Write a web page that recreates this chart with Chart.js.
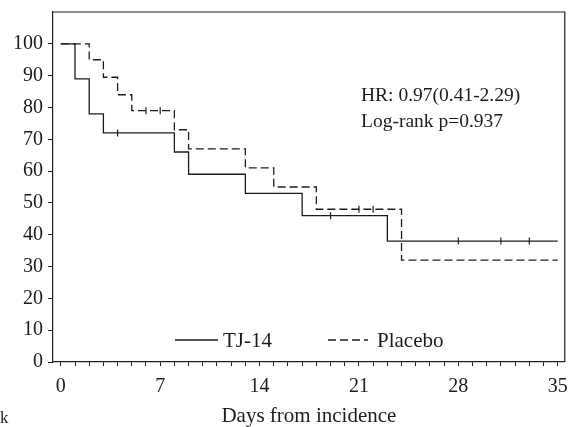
<!DOCTYPE html>
<html>
<head>
<meta charset="utf-8">
<script src="https://cdn.jsdelivr.net/npm/chart.js@4/dist/chart.umd.min.js"></script>
<style>
  html, body { margin: 0; padding: 0; background: #fff; }
</style>
</head>
<body>
<canvas id="km" width="570" height="427"></canvas>
<script>
// Kaplan-Meier steps (day, % surviving)
const tjDays = [0, 1, 2, 3, 8, 9, 13, 17, 23, 35]
const tjSurv = [100, 89, 78, 72, 66, 59, 53, 46, 38, 38]
const tjCensorDays = [4, 19, 28, 31, 33]
const tjCensorSurv = [72, 46, 38, 38, 38]

const plDays = [0, 2, 3, 4, 5, 8, 9, 13, 15, 18, 24, 35]
const plSurv = [100, 95, 89.5, 84, 79, 73, 67, 61, 55, 48, 32, 32]
const plCensorDays = [6, 7, 21, 22]
const plCensorSurv = [79, 79, 48, 48]

const xLabels = [0, 7, 14, 21, 28, 35]
const yLabels = [0, 10, 20, 30, 40, 50, 60, 70, 80, 90, 100]

const seriesNames = ["TJ-14", "Placebo"]
const statsText = ["HR: 0.97(0.41-2.29)", "Log-rank p=0.937"]

const ink = "#1c1c1c"
const serif = "'Liberation Serif', 'Times New Roman', serif"

const pts = (xs, ys) => xs.map((x, i) => ({ x: x, y: ys[i] }))

// box around the plot + legend and stats text inside it
const extras = {
    id: "extras",
    afterDraw(chart) {
        const { ctx, chartArea: a } = chart
        ctx.save()
        ctx.strokeStyle = ink
        ctx.lineWidth = 1.2
        ctx.beginPath()
        ctx.moveTo(a.left, a.top)
        ctx.lineTo(a.right, a.top)
        ctx.lineTo(a.right, a.bottom)
        ctx.stroke()

        ctx.fillStyle = ink
        ctx.font = "19.5px " + serif
        ctx.textBaseline = "middle"
        ctx.fillText(statsText[0], 361, 96)
        ctx.fillText(statsText[1], 361, 122)

        // legend
        const ly = 340
        ctx.lineWidth = 1.3
        ctx.beginPath()
        ctx.moveTo(175, ly); ctx.lineTo(218, ly)
        ctx.stroke()
        ctx.setLineDash([8, 4])
        ctx.beginPath()
        ctx.moveTo(328, ly); ctx.lineTo(368, ly)
        ctx.stroke()
        ctx.setLineDash([])
        ctx.font = "21px " + serif
        ctx.fillText(seriesNames[0], 223, ly + 1)
        ctx.fillText(seriesNames[1], 377, ly + 1)

        ctx.font = "17px " + serif
        ctx.fillText("k", 0, 419)
        ctx.restore()
    }
}

new Chart("km", {
    type: "line",
    data: {
        datasets: [
            {
                label: seriesNames[0],
                data: pts(tjDays, tjSurv),
                stepped: true,
                borderColor: ink,
                borderWidth: 1.3,
                pointRadius: 0
            },
            {
                label: seriesNames[1],
                data: pts(plDays, plSurv),
                stepped: true,
                borderColor: ink,
                borderWidth: 1.3,
                borderDash: [8, 4],
                pointRadius: 0
            },
            {
                label: "TJ-14 censored",
                data: pts(tjCensorDays, tjCensorSurv),
                showLine: false,
                pointStyle: "line",
                rotation: 90,
                pointRadius: 3.5,
                pointBorderWidth: 1.2,
                borderColor: ink
            },
            {
                label: "Placebo censored",
                data: pts(plCensorDays, plCensorSurv),
                showLine: false,
                pointStyle: "line",
                rotation: 90,
                pointRadius: 3.5,
                pointBorderWidth: 1.2,
                borderColor: ink
            }
        ]
    },
    options: {
        responsive: false,
        devicePixelRatio: 1,
        animation: false,
        layout: { padding: { top: 12, right: 3, left: 0, bottom: 0 } },
        plugins: {
            legend: { display: false },
            tooltip: { enabled: false }
        },
        scales: {
            x: {
                type: "linear",
                min: -0.55,
                max: 35.5,
                afterBuildTicks: s => {
                    s.ticks = []
                    for (let d = 0; d <= 35; d++) s.ticks.push({ value: d })
                },
                afterFit: s => {
                    s.height = 65
                    s.paddingLeft = 0
                    s.paddingRight = 0
                },
                ticks: {
                    autoSkip: false,
                    maxRotation: 0,
                    padding: 9,
                    color: ink,
                    font: { family: serif, size: 20 },
                    callback: v => xLabels.includes(v) ? String(v) : ""
                },
                grid: { drawOnChartArea: false, tickLength: 4, color: ink, lineWidth: 1 },
                border: { color: ink, width: 1.2 },
                title: {
                    display: true,
                    text: "Days from incidence",
                    color: ink,
                    font: { family: serif, size: 21, lineHeight: 1 },
                    padding: { top: 6, bottom: 0 }
                }
            },
            y: {
                min: 0,
                max: 110,
                afterBuildTicks: s => { s.ticks = yLabels.map(v => ({ value: v })) },
                afterFit: s => {
                    s.width = 53
                    s.paddingTop = 0
                    s.paddingBottom = 0
                },
                ticks: {
                    padding: 5,
                    color: ink,
                    font: { family: serif, size: 20 }
                },
                grid: { drawOnChartArea: false, tickLength: 5, color: ink, lineWidth: 1 },
                border: { color: ink, width: 1.2 }
            }
        }
    },
    plugins: [extras]
})
</script>
</body>
</html>
